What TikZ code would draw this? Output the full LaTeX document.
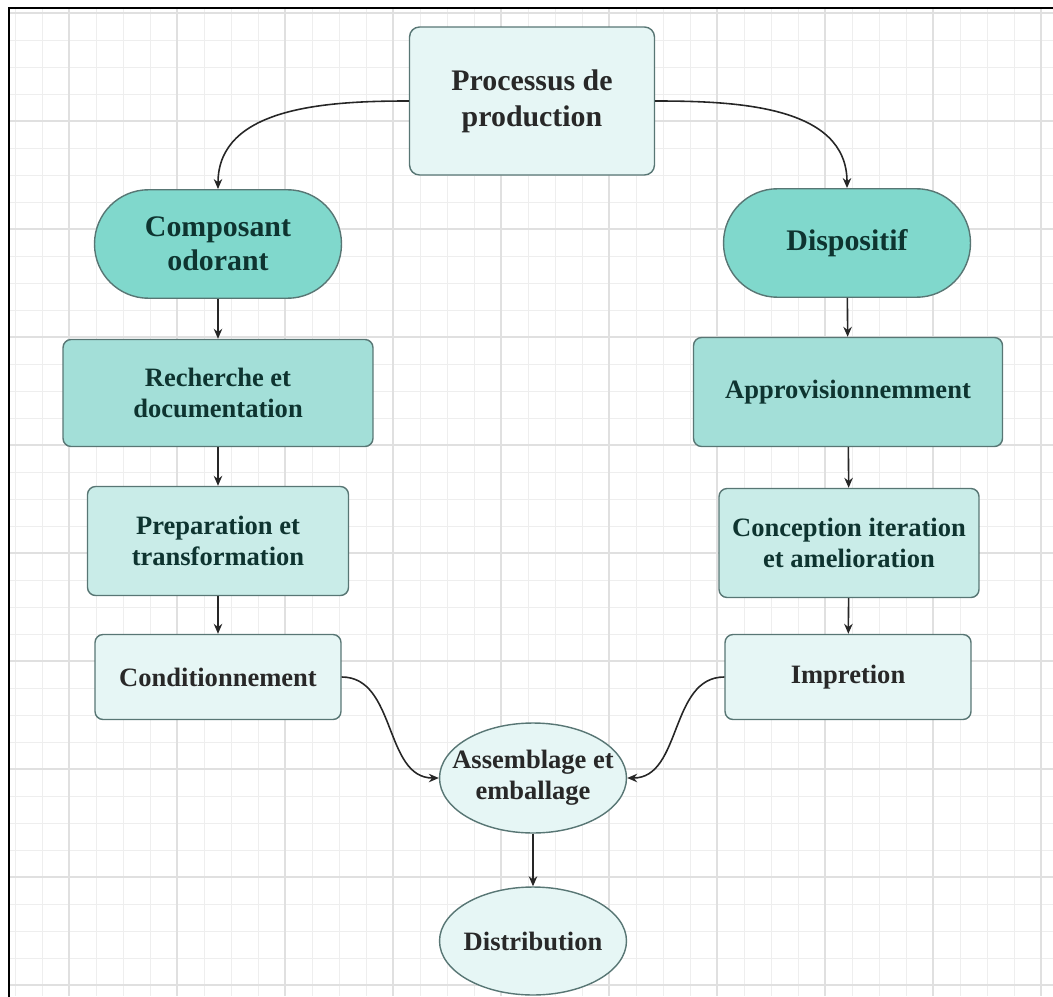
\documentclass[tikz,border=0pt]{standalone}
\usepackage{fontspec}
\setmainfont{Liberation Serif}
\usetikzlibrary{arrows.meta,positioning,shapes.geometric}
\definecolor{tealdeep}{RGB}{128,216,204}
\definecolor{tealmid}{RGB}{163,223,216}
\definecolor{teallight}{RGB}{201,236,232}
\definecolor{tealpale}{RGB}{230,246,245}
\definecolor{boxline}{RGB}{88,118,116}
\definecolor{inkteal}{RGB}{14,52,48}
\definecolor{inkgray}{RGB}{40,40,40}
\definecolor{gridminor}{RGB}{238,238,238}
\definecolor{gridmajor}{RGB}{224,224,224}
\tikzset{
  flow box/.style={
    rectangle, rounded corners=1.6mm, draw=boxline, line width=0.8pt,
    align=center, inner sep=0pt, text=inkteal,
    font=\bfseries\fontsize{15.1}{17.3}\selectfont
  },
  title box/.style={
    flow box, rounded corners=2mm, fill=tealpale, text=inkgray,
    minimum width=4.9cm, minimum height=2.96cm,
    font=\bfseries\fontsize{17}{20.5}\selectfont
  },
  branch pill/.style={
    flow box, rounded corners=1.08cm, fill=tealdeep,
    minimum width=4.94cm, minimum height=2.17cm,
    font=\bfseries\fontsize{17}{19.5}\selectfont
  },
  end oval/.style={
    ellipse, draw=boxline, line width=0.8pt, fill=tealpale,
    inner sep=0pt, text=inkgray, align=center,
    minimum width=3.74cm, minimum height=2.2cm,
    font=\bfseries\fontsize{15.1}{17.3}\selectfont
  },
  flow arrow/.style={-{Stealth[length=2mm,width=1.7mm]}, line width=0.9pt, black!85}
}

\begin{document}
\begin{tikzpicture}[x=0.02cm,y=-0.02cm]
  \useasboundingbox (0,0) rectangle (1053,996);
  % grid paper
  \foreach \gx in {15,42,...,1053} \draw[gridminor, line width=0.5pt] (\gx,9) -- (\gx,996);
  \foreach \gy in {13,40,...,996} \draw[gridminor, line width=0.5pt] (10,\gy) -- (1053,\gy);
  \foreach \gx in {69,177,...,1053} \draw[gridmajor, line width=0.6pt] (\gx,9) -- (\gx,996);
  \foreach \gy in {13,121,...,996} \draw[gridmajor, line width=0.6pt] (10,\gy) -- (1053,\gy);
  \draw[black, line width=1.2pt] (9,1000) -- (9,8) -- (1060,8);

  % nodes
  \node[title box] (process) at (532,101) {Processus de\\production};
  \node[branch pill] (odorant) at (218,244) {Composant\\odorant};
  \node[branch pill] (device) at (847,243) {Dispositif};

  \node[flow box, fill=tealmid, minimum width=6.2cm, minimum height=2.14cm] (research) at (218,393) {Recherche et\\documentation};
  \node[flow box, fill=teallight, minimum width=5.22cm, minimum height=2.18cm] (prepare) at (218,541) {Preparation et\\transformation};
  \node[flow box, fill=tealpale, text=inkgray, minimum width=4.92cm, minimum height=1.7cm] (packing) at (218,677) {Conditionnement};

  \node[flow box, fill=tealmid, minimum width=6.18cm, minimum height=2.18cm] (supply) at (848,392) {Approvisionnemment};
  \node[flow box, fill=teallight, minimum width=5.2cm, minimum height=2.18cm] (design) at (849,543) {Conception iteration\\et amelioration};
  \node[flow box, fill=tealpale, text=inkgray, minimum width=4.92cm, minimum height=1.7cm] (printing) at (848,677) {Impretion};

  \node[end oval] (assembly) at (533,778) {\makebox[0pt]{\begin{tabular}{@{}c@{}}Assemblage et\\emballage\end{tabular}}};
  \node[end oval, minimum height=2.16cm] (delivery) at (533,941) {\makebox[0pt]{Distribution}};

  % connectors
  \draw[flow arrow] (process.west) to[out=180,in=90] (odorant.north);
  \draw[flow arrow] (process.east) to[out=0,in=90] (device.north);
  \draw[flow arrow] (odorant) -- (research);
  \draw[flow arrow] (research) -- (prepare);
  \draw[flow arrow] (prepare) -- (packing);
  \draw[flow arrow] (device) -- (supply);
  \draw[flow arrow] (supply) -- (design);
  \draw[flow arrow] (design) -- (printing);
  \draw[flow arrow] (packing.east) to[out=0,in=180] (assembly.west);
  \draw[flow arrow] (printing.west) to[out=180,in=0] (assembly.east);
  \draw[flow arrow] (assembly) -- (delivery);
\end{tikzpicture}
\end{document}
